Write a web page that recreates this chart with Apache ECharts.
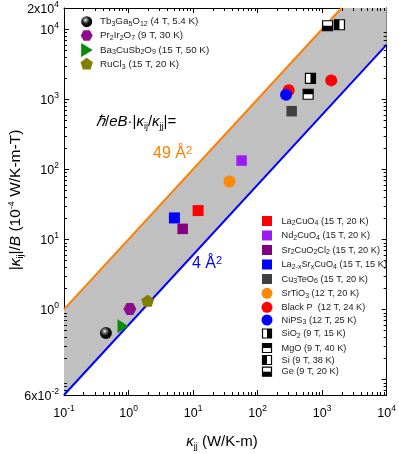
<!DOCTYPE html>
<html><head><meta charset="utf-8">
<script src="https://cdn.jsdelivr.net/npm/echarts@6/dist/echarts.min.js"></script>
<style>html,body{margin:0;padding:0;background:#fff}#c{width:399px;height:454px}</style>
</head><body><div id="c"></div>
<script>
// ---------- data (x: kappa_jj W/K-m, y: |kappa_ij|/B 1e-4 W/K-m-T) ----------
const tb3Ga5O12   = [[0.446, 0.46]];
const pr2Ir2O7    = [[1.05, 1.01]];
const ba3CuSb2O9  = [[0.82, 0.574]];
const ruCl3       = [[1.98, 1.33]];
const la2CuO4     = [[11.97, 25.7]];
const nd2CuO4     = [[56.5, 133]];
const sr2CuO2Cl2  = [[6.9, 14.1]];
const lsco        = [[5.14, 20.2]];
const cu3TeO6     = [[337, 674]];
const srTiO3      = [[36.6, 67]];
const blackP      = [[303, 1337], [1383, 1854]];
const niPS3       = [[276, 1159]];
const siO2        = [[659, 1977]];
const mgO         = [[607, 1175]];
const si          = [[1854, 11540]];
const ge          = [[1213, 11170]];
// boundary lines of the shaded band
const line49 = [[0.1, 1], [2000, 20000]];
const line4  = [[0.1, 0.06], [10000, 6000]];
const bandCorner = [[10000, 20000]];
// axes
const xMin = 0.1, xMax = 10000, yMin = 0.06, yMax = 20000;
const minorMult = [2, 3, 4, 5, 6, 7, 8, 9];
const xDecades = [0.1, 1, 10, 100, 1000];
const yDecades = [0.01, 0.1, 1, 10, 100, 1000, 10000];

const FONT = '"Liberation Sans", Arial, sans-serif';
const chart = echarts.init(document.getElementById('c'), null, {renderer: 'canvas'});

const xMinor = [], yMinor = [];
xDecades.forEach(d => minorMult.forEach(m => { const v = d * m; if (v > xMin && v < xMax) xMinor.push([v, 1]); }));
yDecades.forEach(d => minorMult.forEach(m => { const v = d * m; if (v > yMin * 1.001 && v < yMax * 0.999) yMinor.push([1, v]); }));

function tickLine(x1, y1, x2, y2) {
  return {type: 'line', shape: {x1, y1, x2, y2}, style: {stroke: '#000', lineWidth: 1}};
}
function xMinorRender(params, api) {
  const cs = params.coordSys;
  const px = Math.round(api.coord([api.value(0), 1])[0]) + 0.5;
  const b = cs.y + cs.height, t = cs.y;
  return {type: 'group', children: [tickLine(px, b, px, b - 3), tickLine(px, t, px, t + 3)]};
}
function yMinorRender(params, api) {
  const cs = params.coordSys;
  const py = Math.round(api.coord([1, api.value(1)])[1]) + 0.5;
  const l = cs.x, r = cs.x + cs.width;
  return {type: 'group', children: [tickLine(l, py, l + 3, py), tickLine(r, py, r - 3, py)]};
}
function bandRender(params, api) {
  const pts = [];
  line49.forEach(p => pts.push(api.coord(p)));
  bandCorner.forEach(p => pts.push(api.coord(p)));
  line4.slice().reverse().forEach(p => pts.push(api.coord(p)));
  return {type: 'polygon', shape: {points: pts}, style: {fill: '#c0c0c0'}};
}
// kind: 'L' left black, 'R' right black, 'T' top black, 'B' bottom black
function halfSquare(kind, cx, cy, s) {
  const x = cx - s / 2, y = cy - s / 2;
  let half;
  if (kind === 'L') half = {x: x, y: y, width: s / 2, height: s};
  if (kind === 'R') half = {x: x + s / 2, y: y, width: s / 2, height: s};
  if (kind === 'T') half = {x: x, y: y, width: s, height: s / 2};
  if (kind === 'B') half = {x: x, y: y + s / 2, width: s, height: s / 2};
  return [
    {type: 'rect', shape: {x, y, width: s, height: s}, style: {fill: '#fff', stroke: '#000', lineWidth: 1.2}},
    {type: 'rect', shape: half, style: {fill: '#000'}}
  ];
}
function halfSeries(name, data, kind) {
  return {
    name, type: 'custom', data, z: 5,
    renderItem: (params, api) => {
      const p = api.coord([api.value(0), api.value(1)]);
      return {type: 'group', children: halfSquare(kind, p[0], p[1], 10)};
    }
  };
}
const sphereFill = {type: 'radial', x: 0.4, y: 0.35, r: 0.65,
  colorStops: [{offset: 0, color: '#ffffff'}, {offset: 0.2, color: '#8a8a8a'}, {offset: 0.55, color: '#111'}, {offset: 1, color: '#000'}]};
const HEX = 'path://M-1,0 L-0.5,-0.866 L0.5,-0.866 L1,0 L0.5,0.866 L-0.5,0.866 Z';
const TRI = 'path://M0,0 L1,0.5 L0,1 Z';
const PENT = 'path://M0,-1 L0.951,-0.309 L0.588,0.809 L-0.588,0.809 L-0.951,-0.309 Z';

function scatter(name, data, symbol, size, color, extra) {
  return Object.assign({name, type: 'scatter', data, symbol, symbolSize: size,
    itemStyle: {color, opacity: 1}, z: 5, emphasis: {disabled: true}}, extra || {});
}

function logLabel(v) {
  if (v < 0.08) return '{b|6x10}{s|-2}';
  if (v > 15000) return '{b|2x10}{s|4}';
  const e = Math.round(Math.log10(v));
  return '{b|10}{s|' + e + '}';
}
const labelRich = {
  b: {fontSize: 12.5, fontFamily: FONT, color: '#000', lineHeight: 16, verticalAlign: 'bottom'},
  s: {fontSize: 8.5, fontFamily: FONT, color: '#000', lineHeight: 9, verticalAlign: 'top'}
};
const axisCommon = {
  type: 'log', logBase: 10,
  axisLine: {show: true, lineStyle: {color: '#000', width: 1}},
  axisTick: {show: true, inside: true, length: 5, lineStyle: {color: '#000'}},
  splitLine: {show: false}, minorTick: {show: false}
};

// ---------- legend graphics ----------
const sub = {fontSize: 7, fontFamily: FONT, fill: '#222', lineHeight: 8, verticalAlign: 'bottom', padding: [0, 0, 0, 0]};
const sup = {fontSize: 7, fontFamily: FONT, fill: '#222', lineHeight: 8, verticalAlign: 'top'};
function legText(x, y, text, size) {
  return {type: 'text', x, y, z: 10, style: {text, fontSize: size || 10, fontFamily: FONT, fill: '#222',
    align: 'left', verticalAlign: 'middle', lineHeight: 12, rich: {sub, sup}}};
}
function legMarker(kind, x, y, color) {
  if (kind === 'sq') return {type: 'rect', shape: {x: x - 5, y: y - 5, width: 10, height: 10}, style: {fill: color}, z: 10};
  if (kind === 'ci') return {type: 'circle', shape: {cx: x, cy: y, r: 5.5}, style: {fill: color}, z: 10};
  if (kind === 'sphere') return {type: 'circle', shape: {cx: x, cy: y, r: 5.5}, style: {fill: sphereFill}, z: 10};
  if (kind === 'hex') return {type: 'polygon', shape: {points: [[x - 6, y], [x - 3, y - 5.2], [x + 3, y - 5.2], [x + 6, y], [x + 3, y + 5.2], [x - 3, y + 5.2]]}, style: {fill: color}, z: 10};
  if (kind === 'tri') return {type: 'polygon', shape: {points: [[x - 5.5, y - 7], [x + 6, y], [x - 5.5, y + 7]]}, style: {fill: color}, z: 10};
  if (kind === 'pent') return {type: 'polygon', shape: {points: [[x, y - 6.5], [x + 6.2, y - 2], [x + 3.8, y + 5.3], [x - 3.8, y + 5.3], [x - 6.2, y - 2]]}, style: {fill: color}, z: 10};
  return {type: 'group', z: 10, children: halfSquare(kind, x, y, 9).map(c => Object.assign(c, {z: 10}))};
}
const legTL = [
  ['sphere', '#000', 'Tb{sub|3}Ga{sub|5}O{sub|12} (4 T, 5.4 K)', 21.7],
  ['hex', '#8e0c8e', 'Pr{sub|2}Ir{sub|2}O{sub|7} (9 T, 30 K)', 35.5],
  ['tri', '#0a8a0a', 'Ba{sub|3}CuSb{sub|2}O{sub|9} (15 T, 50 K)', 50],
  ['pent', '#7f7f00', 'RuCl{sub|3} (15 T, 20 K)', 64.3]
];
const legR = [
  ['sq', '#ff0000', 'La{sub|2}CuO{sub|4} (15 T, 20 K)', 221],
  ['sq', '#9a1cf5', 'Nd{sub|2}CuO{sub|4} (15 T, 20 K)', 235.5],
  ['sq', '#800080', 'Sr{sub|2}CuO{sub|2}Cl{sub|2} (15 T, 20 K)', 250],
  ['sq', '#0000ff', 'La{sub|2-x}Sr{sub|x}CuO{sub|4} (15 T, 15 K)', 264.5],
  ['sq', '#404040', 'Cu{sub|3}TeO{sub|6} (15 T, 20 K)', 279],
  ['ci', '#ff8800', 'SrTiO{sub|3} (12 T, 20 K)', 293.3],
  ['ci', '#ff0000', 'Black P  (12 T, 24 K)', 307.3],
  ['ci', '#0000ff', 'NiPS{sub|3} (12 T, 25 K)', 320],
  ['R', null, 'SiO{sub|2} (9 T, 15 K)', 333.5],
  ['T', null, 'MgO (9 T, 40 K)', 348],
  ['L', null, 'Si (9 T, 38 K)', 360],
  ['B', null, 'Ge (9 T, 20 K)', 371.7]
];
const graphics = [];
legTL.forEach(e => { graphics.push(legMarker(e[0], 86.7, e[3], e[1])); graphics.push(legText(100, e[3], e[2], 9.8)); });
legR.forEach(e => { graphics.push(legMarker(e[0], 267, e[3], e[1])); graphics.push(legText(281.5, e[3], e[2], 9.2)); });

// annotation texts
graphics.push({type: 'text', x: 96, y: 122, z: 10, style: {
  text: '{i|ℏ}/{i|eB}·|{i|κ}{s|ij}/{i|κ}{s|jj}|=', fontSize: 15, fontFamily: FONT, fill: '#000',
  align: 'left', verticalAlign: 'middle', lineHeight: 18,
  rich: {i: {fontSize: 15, fontStyle: 'italic', fontFamily: FONT, fill: '#000', lineHeight: 18},
         s: {fontSize: 9, fontFamily: FONT, fill: '#000', lineHeight: 9, verticalAlign: 'bottom'}}}});
graphics.push({type: 'text', x: 153, y: 154, z: 10, style: {
  text: '49 Å{s|2}', fontSize: 16, fontFamily: FONT, fill: '#ff7f00', align: 'left', verticalAlign: 'middle', lineHeight: 18,
  rich: {s: {fontSize: 11, fontFamily: FONT, fill: '#ff7f00', lineHeight: 10, verticalAlign: 'top'}}}});
graphics.push({type: 'text', x: 192, y: 264, z: 10, style: {
  text: '4 Å{s|2}', fontSize: 16, fontFamily: FONT, fill: '#0000ff', align: 'left', verticalAlign: 'middle', lineHeight: 18,
  rich: {s: {fontSize: 11, fontFamily: FONT, fill: '#0000ff', lineHeight: 10, verticalAlign: 'top'}}}});
// axis titles
graphics.push({type: 'text', x: 222, y: 442, z: 10, style: {
  text: '{i|κ}{s|jj} (W/K-m)', fontSize: 15, fontFamily: FONT, fill: '#000', align: 'center', verticalAlign: 'middle', lineHeight: 18,
  rich: {i: {fontSize: 15, fontStyle: 'italic', fontFamily: FONT, fill: '#000', lineHeight: 18},
         s: {fontSize: 9, fontFamily: FONT, fill: '#000', lineHeight: 8, verticalAlign: 'bottom'}}}});
graphics.push({type: 'text', x: 16, y: 200, rotation: Math.PI / 2, z: 10, style: {
  text: '|{i|κ}{s|ij}|/{i|B} (10{p|-4} W/K-m-T)', fontSize: 15.5, fontFamily: FONT, fill: '#000', align: 'center', verticalAlign: 'middle', lineHeight: 18,
  rich: {i: {fontSize: 15.5, fontStyle: 'italic', fontFamily: FONT, fill: '#000', lineHeight: 18},
         s: {fontSize: 9, fontFamily: FONT, fill: '#000', lineHeight: 8, verticalAlign: 'bottom'},
         p: {fontSize: 9, fontFamily: FONT, fill: '#000', lineHeight: 8, verticalAlign: 'top'}}}});

const option = {
  animation: false,
  backgroundColor: '#fff',
  grid: {left: 64, right: 8, top: 6, bottom: 59, containLabel: false},
  xAxis: [
    Object.assign({}, axisCommon, {min: xMin, max: xMax, position: 'bottom',
      axisLabel: {show: true, margin: 9, formatter: logLabel, rich: labelRich}}),
    Object.assign({}, axisCommon, {min: xMin, max: xMax, position: 'top', axisLabel: {show: false}})
  ],
  yAxis: [
    Object.assign({}, axisCommon, {min: yMin, max: yMax, position: 'left',
      axisLabel: {show: true, margin: 5, formatter: logLabel, rich: labelRich, showMinLabel: true, showMaxLabel: true}}),
    Object.assign({}, axisCommon, {min: yMin, max: yMax, position: 'right', axisLabel: {show: false}})
  ],
  series: [
    {type: 'custom', name: 'band', data: [[1, 1]], renderItem: bandRender, z: 1, clip: true, silent: true},
    {type: 'line', name: '49 Å2', data: line49, showSymbol: false, symbol: 'none', lineStyle: {color: '#ff7f00', width: 2}, z: 2, clip: true},
    {type: 'line', name: '4 Å2', data: line4, showSymbol: false, symbol: 'none', lineStyle: {color: '#0000ff', width: 2}, z: 2, clip: true},
    {type: 'custom', name: 'xMinor', data: xMinor, renderItem: xMinorRender, z: 3, silent: true},
    {type: 'custom', name: 'yMinor', data: yMinor, renderItem: yMinorRender, z: 3, silent: true},
    scatter('Tb3Ga5O12', tb3Ga5O12, 'circle', 12, sphereFill),
    scatter('Pr2Ir2O7', pr2Ir2O7, HEX, [13, 12], '#8e0c8e'),
    scatter('Ba3CuSb2O9', ba3CuSb2O9, TRI, [11, 14], '#0a8a0a'),
    scatter('RuCl3', ruCl3, PENT, [13, 12], '#7f7f00'),
    scatter('La2CuO4', la2CuO4, 'rect', 11, '#ff0000'),
    scatter('Nd2CuO4', nd2CuO4, 'rect', 10.5, '#9a1cf5'),
    scatter('LSCO', lsco, 'rect', 11, '#0000ff'),
    scatter('Sr2CuO2Cl2', sr2CuO2Cl2, 'rect', 10.5, '#800080'),
    scatter('Cu3TeO6', cu3TeO6, 'rect', 10.5, '#404040'),
    scatter('SrTiO3', srTiO3, 'circle', 12, '#ff8800'),
    scatter('Black P', blackP, 'circle', 12, '#ff0000'),
    scatter('NiPS3', niPS3, 'circle', 12, '#0000ff'),
    halfSeries('SiO2', siO2, 'R'),
    halfSeries('MgO', mgO, 'T'),
    halfSeries('Si', si, 'L'),
    halfSeries('Ge', ge, 'B')
  ],
  graphic: graphics
};
chart.setOption(option);
</script>
</body></html>
